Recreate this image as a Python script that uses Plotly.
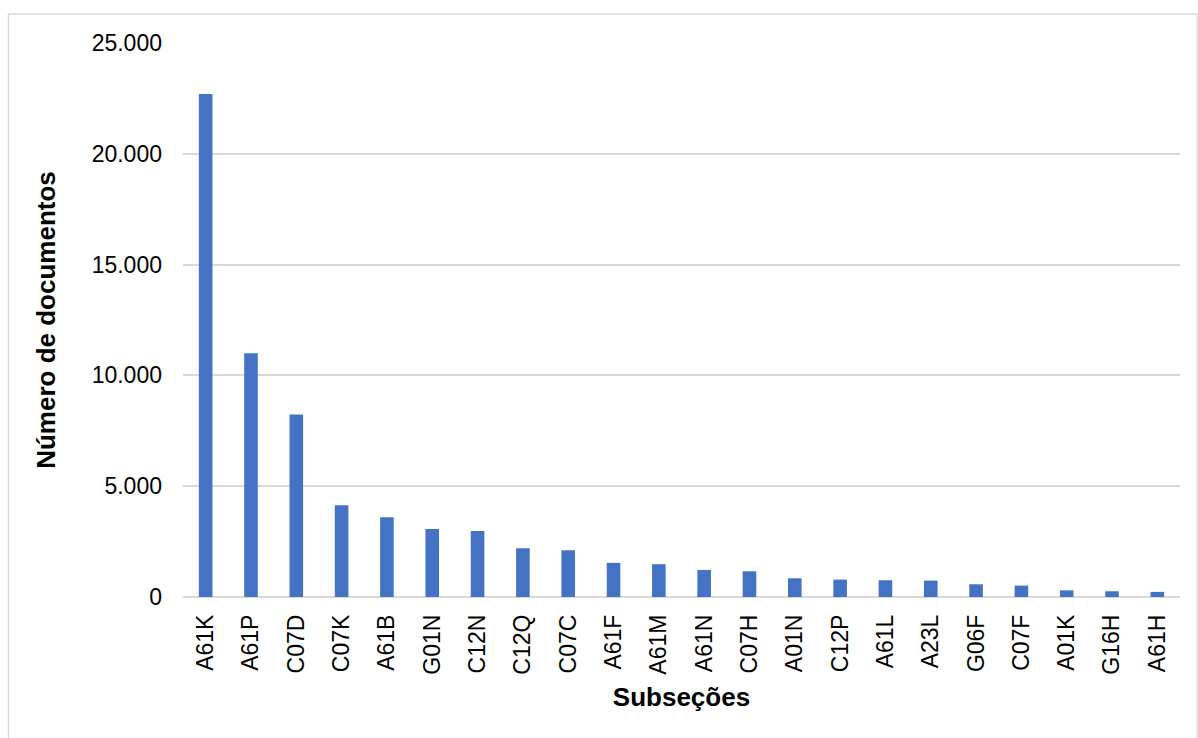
import plotly.graph_objects as go

categories = ["A61K", "A61P", "C07D", "C07K", "A61B", "G01N", "C12N", "C12Q", "C07C", "A61F", "A61M",
              "A61N", "C07H", "A01N", "C12P", "A61L", "A23L", "G06F", "C07F", "A01K", "G16H", "A61H"]
values = [22700, 11000, 8230, 4140, 3600, 3070, 2980, 2200, 2110, 1540, 1480,
          1220, 1160, 845, 785, 755, 740, 575, 515, 300, 260, 230]
y_ticks = [0, 5000, 10000, 15000, 20000, 25000]

fig = go.Figure()
fig.add_trace(go.Bar(x=categories, y=values, marker=dict(color="#4472C4", line=dict(width=0)), width=0.30))

FONT = "Liberation Sans, Arial, sans-serif"
ML, MR, MT, MB = 183, 18, 43, 141
W, H = 1198, 738
pw = W - ML - MR
ph = H - MT - MB

fig.update_layout(
    width=W, height=H,
    margin=dict(l=ML, r=MR, t=MT, b=MB),
    paper_bgcolor="white", plot_bgcolor="white",
    separators=",.",
    showlegend=False,
    font=dict(family=FONT, color="#000000", size=23),
    xaxis=dict(
        tickangle=-90, tickfont=dict(size=23, family=FONT, color="#000000"),
        showgrid=False, showline=False, zeroline=False, ticks="",
        ticklabelstandoff=12,
        title=dict(text="<b>Subseções</b>", font=dict(size=26, family=FONT, color="#000000"), standoff=14),
        range=[-0.5, len(categories) - 0.5],
    ),
    yaxis=dict(
        range=[0, 25000], tickvals=y_ticks, tickformat=",.0f",
        tickfont=dict(size=23, family=FONT, color="#000000"),
        showgrid=True, gridcolor="#d9d9d9", gridwidth=1.5,
        zeroline=True, zerolinecolor="#d9d9d9", zerolinewidth=2,
        showline=False, ticks="", ticklabelstandoff=20,
        title=dict(text="<b>Número de documentos</b>", font=dict(size=26, family=FONT, color="#000000"), standoff=28),
    ),
    bargap=0.7,
)

# outer chart border (light gray frame)
fig.add_shape(type="rect", xref="paper", yref="paper",
              x0=(8.5 - ML) / pw, x1=(1197.5 - ML) / pw,
              y0=(MT + ph - 760) / ph, y1=(MT + ph - 14) / ph,
              line=dict(color="#d9d9d9", width=1.5), fillcolor="rgba(0,0,0,0)", layer="below")

fig.write_html("out.html")
